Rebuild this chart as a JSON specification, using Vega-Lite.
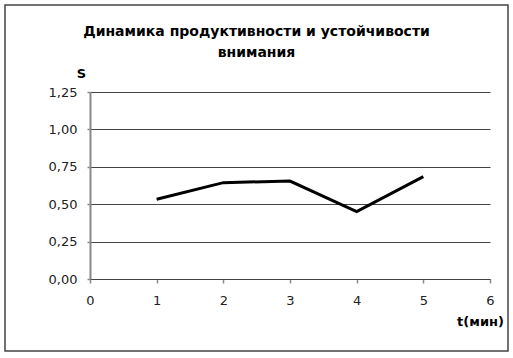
{
  "$schema": "https://vega.github.io/schema/vega-lite/v6.json",
  "width": 503,
  "height": 346,
  "autosize": {"type": "none"},
  "padding": {"left": 5, "top": 5, "right": 5, "bottom": 7},
  "background": "white",
  "config": {
    "view": {"stroke": "#444444", "strokeWidth": 1.5, "fill": "white"},
    "font": "DejaVu Sans"
  },
  "title": {
    "text": ["Динамика продуктивности и устойчивости", "внимания"],
    "font": "DejaVu Sans",
    "fontSize": 14,
    "fontWeight": "bold",
    "color": "black",
    "anchor": "middle",
    "frame": "group",
    "orient": "top",
    "offset": -55,
    "lineHeight": 21
  },
  "data": {
    "values": [
      {"t": 1, "S": 0.533},
      {"t": 2, "S": 0.644},
      {"t": 3, "S": 0.655},
      {"t": 4, "S": 0.451},
      {"t": 5, "S": 0.684}
    ]
  },
  "mark": {"type": "line", "color": "black", "strokeWidth": 3},
  "encoding": {
    "x": {
      "field": "t",
      "type": "quantitative",
      "scale": {"domain": [0, 6], "range": [85, 485], "nice": false, "zero": false},
      "axis": {
        "offset": -72,
        "values": [0, 1, 2, 3, 4, 5, 6],
        "format": "d",
        "grid": false,
        "labelFlush": false,
        "labelFontSize": 13,
        "labelColor": "#222222",
        "labelPadding": 11,
        "tickSize": 4,
        "tickColor": "#888888",
        "tickWidth": 1.5,
        "domainColor": "#444444",
        "domainWidth": 1,
        "title": "t(мин)",
        "titleFontSize": 13,
        "titleFontWeight": "bold",
        "titleColor": "black",
        "titleAlign": "center",
        "titleBaseline": "alphabetic",
        "titleX": 475,
        "titleY": 46
      }
    },
    "y": {
      "field": "S",
      "type": "quantitative",
      "scale": {"domain": [0, 1.25], "range": [274, 87], "nice": false, "zero": false},
      "axis": {
        "offset": -85,
        "values": [0, 0.25, 0.5, 0.75, 1, 1.25],
        "labelExpr": "replace(format(datum.value, '.2f'), '.', ',')",
        "labelFlush": false,
        "grid": true,
        "gridColor": "#444444",
        "gridWidth": 1,
        "labelFontSize": 13,
        "labelColor": "#222222",
        "labelPadding": 10,
        "tickSize": 3,
        "tickColor": "#888888",
        "tickWidth": 1.5,
        "domainColor": "#888888",
        "domainWidth": 2,
        "title": "S",
        "titleAngle": 0,
        "titleFontSize": 13,
        "titleFontWeight": "bold",
        "titleColor": "black",
        "titleAlign": "center",
        "titleBaseline": "alphabetic",
        "titleX": -9,
        "titleY": 72
      }
    }
  }
}
